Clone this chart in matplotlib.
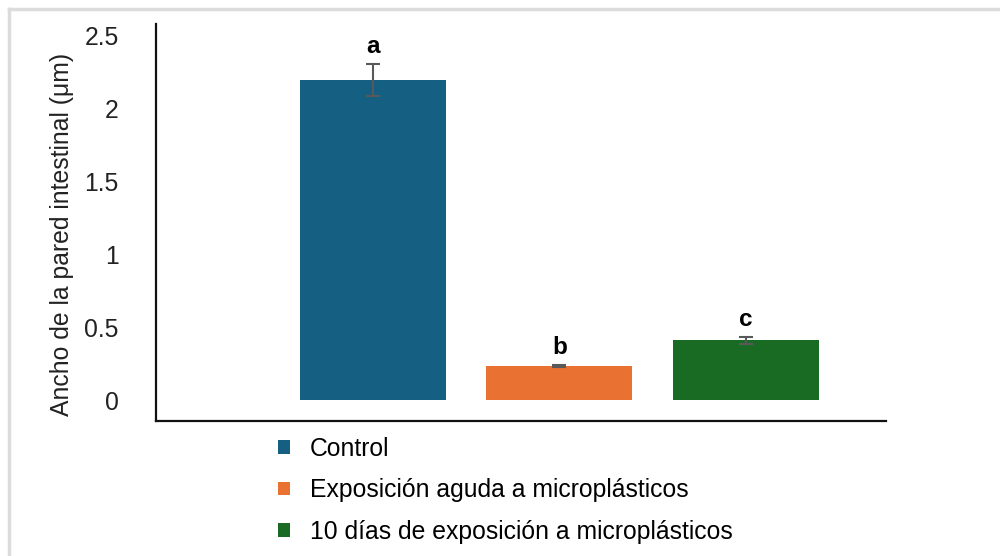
import matplotlib
matplotlib.use("Agg")
import matplotlib.pyplot as plt
from matplotlib.lines import Line2D
from matplotlib.patches import Patch

plt.rcParams['font.family'] = ['Liberation Sans', 'DejaVu Sans']

# Data
categories = ["Control",
              "Exposición aguda a microplásticos",
              "10 días de exposición a microplásticos"]
means = [2.20, 0.235, 0.41]
errors = [0.11, 0.006, 0.025]
letters = ["a", "b", "c"]
colors = ["#156082", "#E97132", "#196B24"]
yticks = [0, 0.5, 1, 1.5, 2, 2.5]
ytick_labels = ["0", "0.5", "1", "1.5", "2", "2.5"]
ylabel = "Ancho de la pared intestinal (μm)"

FS = 17.8

fig = plt.figure(figsize=(10, 5.56), dpi=100)
ax = fig.add_axes([0.156, 0.2428, 0.730, 0.714])

x = list(range(len(categories)))
bars = ax.bar(x, means, width=0.783, color=colors, edgecolor="none", zorder=2)
ax.errorbar(x, means, yerr=errors, fmt="none", ecolor="#595959",
            elinewidth=1.5, capsize=5, capthick=1.5, zorder=3)

for xi, m, e, lab in zip(x, means, errors, letters):
    ax.annotate(lab, xy=(xi, m + e), xytext=(0, 4), textcoords="offset points",
                ha="center", va="bottom", fontsize=17.5, fontweight="bold",
                color="#000000")

ax.set_xlim(-1.163, 2.751)
ax.set_ylim(-0.144, 2.582)
ax.set_xticks([])
ax.set_yticks(yticks)
ax.set_yticklabels(ytick_labels, fontsize=FS, color="#222222")
ax.tick_params(axis="y", length=0, pad=27)

for side in ("top", "right"):
    ax.spines[side].set_visible(False)
for side in ("left", "bottom"):
    ax.spines[side].set_linewidth(1.6)
    ax.spines[side].set_color("#111111")

fig.text(0.062, 1 - 234 / 556, ylabel, rotation=90, ha="center", va="center",
         fontsize=FS, color="#222222")

handles = [Patch(facecolor=c, edgecolor="none") for c in colors]
fig.legend(handles, categories, loc="upper left",
           bbox_to_anchor=(0.278, 1 - 437 / 556), frameon=False,
           fontsize=FS, handlelength=0.48, handleheight=0.48,
           handletextpad=0.8, labelspacing=0.7, borderaxespad=0,
           borderpad=0)

# light frame along the top and left edges
fig.add_artist(Line2D([0.009, 1.0], [1 - 9 / 556, 1 - 9 / 556],
                      transform=fig.transFigure, color="#dcdcdc", lw=2.5))
fig.add_artist(Line2D([0.009, 0.009], [0, 1 - 9 / 556],
                      transform=fig.transFigure, color="#dcdcdc", lw=2.5))

fig.savefig("out.png", dpi=100)
